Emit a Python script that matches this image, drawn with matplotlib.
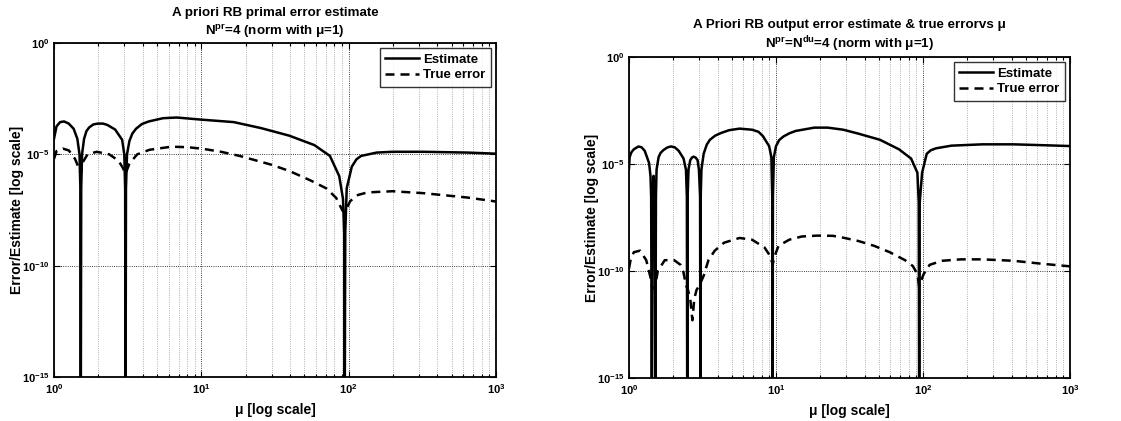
import matplotlib

matplotlib.use("Agg")
import matplotlib.pyplot as plt
from matplotlib.ticker import NullLocator, LogLocator

# values (mu, error value)
left_est_mu = [1.00, 1.04, 1.10, 1.17, 1.26, 1.36, 1.44, 1.49, 1.51, 1.52, 1.53, 1.55,
               1.60, 1.66, 1.73, 1.85, 1.98, 2.15, 2.30, 2.60, 2.90, 3.00, 3.04, 3.06,
               3.08, 3.13, 3.25, 3.40, 3.60, 3.95, 4.40, 5.50, 6.80, 10.1, 16.6, 25.5,
               39.5, 58.5, 74.6, 86.3, 91.5, 93.3, 94.0, 94.8, 97.0, 105, 113, 121.5,
               155, 198, 322, 638, 1000]
left_est_val = [5.0e-5, 1.8e-4, 2.8e-4, 3.0e-4, 2.4e-4, 1.4e-4, 5.0e-5, 1.0e-5, 3.0e-7, 1e-17, 3.0e-7, 1.0e-5,
                5.0e-5, 1.1e-4, 1.6e-4, 2.2e-4, 2.4e-4, 2.4e-4, 2.1e-4, 1.3e-4, 4.5e-5, 1.0e-5, 3.0e-7, 1e-17,
                3.0e-7, 1.0e-5, 4.0e-5, 8.5e-5, 1.4e-4, 2.3e-4, 3.0e-4, 4.2e-4, 4.5e-4, 3.6e-4, 2.8e-4, 1.5e-4,
                6.9e-5, 2.6e-5, 8.5e-6, 1.05e-6, 1.0e-7, 3.0e-9, 1e-17, 3.0e-9, 3.0e-7, 2.8e-6, 6.0e-6, 8.5e-6,
                1.2e-5, 1.3e-5, 1.3e-5, 1.2e-5, 1.07e-5]

left_true_mu = [1.00, 1.04, 1.15, 1.26, 1.39, 1.46, 1.52, 1.57, 1.69, 1.95, 2.37, 2.74,
                2.95, 3.05, 3.25, 3.67, 4.45, 6.25, 7.96, 10.1, 13.6, 18.2, 22.0, 29.5,
                39.5, 55.7, 70.9, 82.3, 90.7, 94.0, 102.5, 115.8, 134, 198, 322, 638, 1000]
left_true_val = [6.2e-6, 1.4e-5, 1.8e-5, 1.5e-5, 6.2e-6, 2.8e-6, 1.3e-6, 4.5e-6, 1.0e-5, 1.3e-5, 1.0e-5, 5.2e-6,
                 2.3e-6, 1.3e-6, 3.8e-6, 1.0e-5, 1.6e-5, 2.2e-5, 2.1e-5, 1.8e-5, 1.3e-5, 8.5e-6, 6.0e-6, 3.5e-6,
                 1.8e-6, 6.5e-7, 2.9e-7, 1.1e-7, 3.0e-8, 2.5e-8, 8.0e-8, 1.5e-7, 1.95e-7, 2.2e-7, 1.8e-7, 1.15e-7, 7.6e-8]

right_est_mu = [1.00, 1.01, 1.04, 1.08, 1.16, 1.22, 1.28, 1.37, 1.40, 1.415, 1.43, 1.445,
                1.47, 1.495, 1.51, 1.525, 1.54, 1.59, 1.64, 1.71, 1.82, 1.93, 2.05, 2.18,
                2.35, 2.44, 2.475, 2.49, 2.505, 2.54, 2.61, 2.68, 2.75, 2.84, 2.93, 2.99,
                3.045, 3.06, 3.075, 3.11, 3.22, 3.38, 3.55, 3.85, 4.22, 4.80, 5.65, 6.87,
                7.60, 8.15, 8.98, 9.30, 9.43, 9.48, 9.53, 9.67, 10.0, 10.5, 11.2, 12.3,
                13.6, 18.2, 22.5, 28.7, 36.5, 51.0, 68.5, 83.0, 91.6, 93.5, 94.2, 95.0,
                98.6, 106, 113, 122.5, 156, 254, 412, 637, 1000]
right_est_val = [6.3e-6, 2.1e-5, 3.6e-5, 4.9e-5, 6.6e-5, 6.0e-5, 4.1e-5, 1.1e-5, 2.8e-6, 3.0e-7, 1e-17, 3.0e-7,
                 2.8e-6, 3.0e-7, 1e-17, 3.0e-7, 5.5e-6, 2.1e-5, 3.3e-5, 4.4e-5, 5.9e-5, 6.6e-5, 6.0e-5, 4.1e-5,
                 1.8e-5, 5.5e-6, 3.0e-7, 1e-17, 3.0e-7, 5.5e-6, 1.5e-5, 2.0e-5, 2.2e-5, 2.0e-5, 1.5e-5, 5.5e-6,
                 3.0e-7, 1e-17, 3.0e-7, 5.5e-6, 3.0e-5, 8.0e-5, 1.35e-4, 2.1e-4, 2.8e-4, 3.8e-4, 4.5e-4, 4.0e-4,
                 3.2e-4, 2.0e-4, 6.8e-5, 2.1e-5, 3.0e-7, 1e-17, 3.0e-7, 2.1e-5, 6.8e-5, 1.3e-4, 1.9e-4, 2.7e-4,
                 3.5e-4, 5.0e-4, 5.0e-4, 4.0e-4, 2.6e-4, 1.35e-4, 4.9e-5, 1.8e-5, 3.9e-6, 1.6e-7, 1e-17, 1.6e-7,
                 3.9e-6, 3.0e-5, 4.4e-5, 5.4e-5, 7.2e-5, 8.3e-5, 8.3e-5, 7.6e-5, 6.9e-5]

right_true_mu = [1.00, 1.03, 1.08, 1.19, 1.31, 1.40, 1.44, 1.50, 1.57, 1.75, 2.03, 2.24,
                 2.35, 2.44, 2.52, 2.61, 2.70, 2.78, 2.88, 3.02, 3.22, 3.47, 3.83, 4.43,
                 5.65, 6.87, 8.35, 9.20, 9.48, 9.80, 10.4, 12.3, 15.0, 19.1, 24.4, 28.7,
                 36.5, 46.5, 59.3, 75.5, 85.3, 91.6, 94.0, 101, 111, 135, 181, 254,
                 412, 637, 1000]
right_true_val = [1.3e-10, 4.0e-10, 7.6e-10, 8.9e-10, 3.2e-10, 5.1e-11, 1.6e-11, 1.6e-11, 1.0e-10, 3.2e-10, 3.2e-10, 1.95e-10,
                  8.5e-11, 2.2e-11, 1.3e-11, 5.0e-12, 5.0e-13, 5.0e-12, 1.3e-11, 2.2e-11, 6.0e-11, 3.2e-10, 8.9e-10, 2.1e-9,
                  3.5e-9, 2.9e-9, 1.26e-9, 4.6e-10, 2.0e-10, 5.0e-10, 1.5e-9, 2.9e-9, 4.1e-9, 4.5e-9, 4.4e-9, 3.6e-9,
                  2.5e-9, 1.5e-9, 7.6e-10, 3.2e-10, 1.7e-10, 7.1e-11, 2.0e-11, 7.1e-11, 1.95e-10, 3.0e-10, 3.5e-10, 3.5e-10,
                  3.0e-10, 2.2e-10, 1.65e-10]

plt.rcParams["font.family"] = ["Liberation Sans", "DejaVu Sans"]
plt.rcParams["font.weight"] = "bold"
plt.rcParams["mathtext.fontset"] = "custom"
plt.rcParams["mathtext.rm"] = "Liberation Sans:bold"
plt.rcParams["mathtext.bf"] = "Liberation Sans:bold"
plt.rcParams["mathtext.it"] = "Liberation Sans:bold"

W, H = 1121, 421
fig = plt.figure(figsize=(W / 100, H / 100), dpi=100)


def make_axes(box, title, est_mu, est_val, true_mu, true_val):
    x0, y0, x1, y1 = box
    ax = fig.add_axes([x0 / W, 1 - y1 / H, (x1 - x0) / W, (y1 - y0) / H])
    ax.plot(est_mu, est_val, color="black", lw=1.8, label="Estimate", zorder=3)
    ax.plot(true_mu, true_val, color="black", lw=1.8, ls=(0, (3.6, 2.4)), label="True error", zorder=3)
    ax.set_xscale("log")
    ax.set_yscale("log")
    ax.set_xlim(1, 1000)
    ax.set_ylim(1e-15, 1)
    ax.set_yticks([1e-15, 1e-10, 1e-5, 1e0])
    ax.yaxis.set_minor_locator(NullLocator())
    ax.xaxis.set_minor_locator(LogLocator(base=10, subs=range(2, 10)))
    ax.grid(True, which="major", ls=":", color="black", lw=0.6)
    ax.grid(True, which="minor", axis="x", ls=":", color="0.6", lw=0.6)
    ax.tick_params(which="both", direction="in", top=True, right=True, labelsize=8, width=0.8)
    ax.tick_params(which="major", length=4)
    ax.tick_params(which="minor", length=2)
    for lab in ax.get_xticklabels() + ax.get_yticklabels():
        lab.set_fontweight("bold")
    for sp in ax.spines.values():
        sp.set_linewidth(1.3)
    ax.set_xlabel("μ [log scale]", fontsize=10, fontweight="bold", labelpad=5)
    ax.set_ylabel("Error/Estimate [log scale]", fontsize=10, fontweight="bold")
    ax.yaxis.set_label_coords(-0.068, 0.5)
    ax.set_title(title, fontsize=9.6, fontweight="bold", pad=6, linespacing=1.25)
    leg = ax.legend(loc="upper right", fontsize=9.5, frameon=True, fancybox=False,
                    borderaxespad=0.4, handlelength=2.6, handletextpad=0.3,
                    borderpad=0.4, labelspacing=0.25)
    leg.get_frame().set_edgecolor("black")
    leg.get_frame().set_linewidth(1.0)
    for t in leg.get_texts():
        t.set_fontweight("bold")
    return ax


make_axes((54, 43, 496, 377),
          "A priori RB primal error estimate\nN$^{\\mathbf{pr}}$=4 (norm with μ=1)",
          left_est_mu, left_est_val, left_true_mu, left_true_val)
make_axes((629, 57, 1070, 378),
          "A Priori RB output error estimate & true errorvs μ\nN$^{\\mathbf{pr}}$=N$^{\\mathbf{du}}$=4 (norm with μ=1)",
          right_est_mu, right_est_val, right_true_mu, right_true_val)

fig.savefig("out.png", dpi=100)
